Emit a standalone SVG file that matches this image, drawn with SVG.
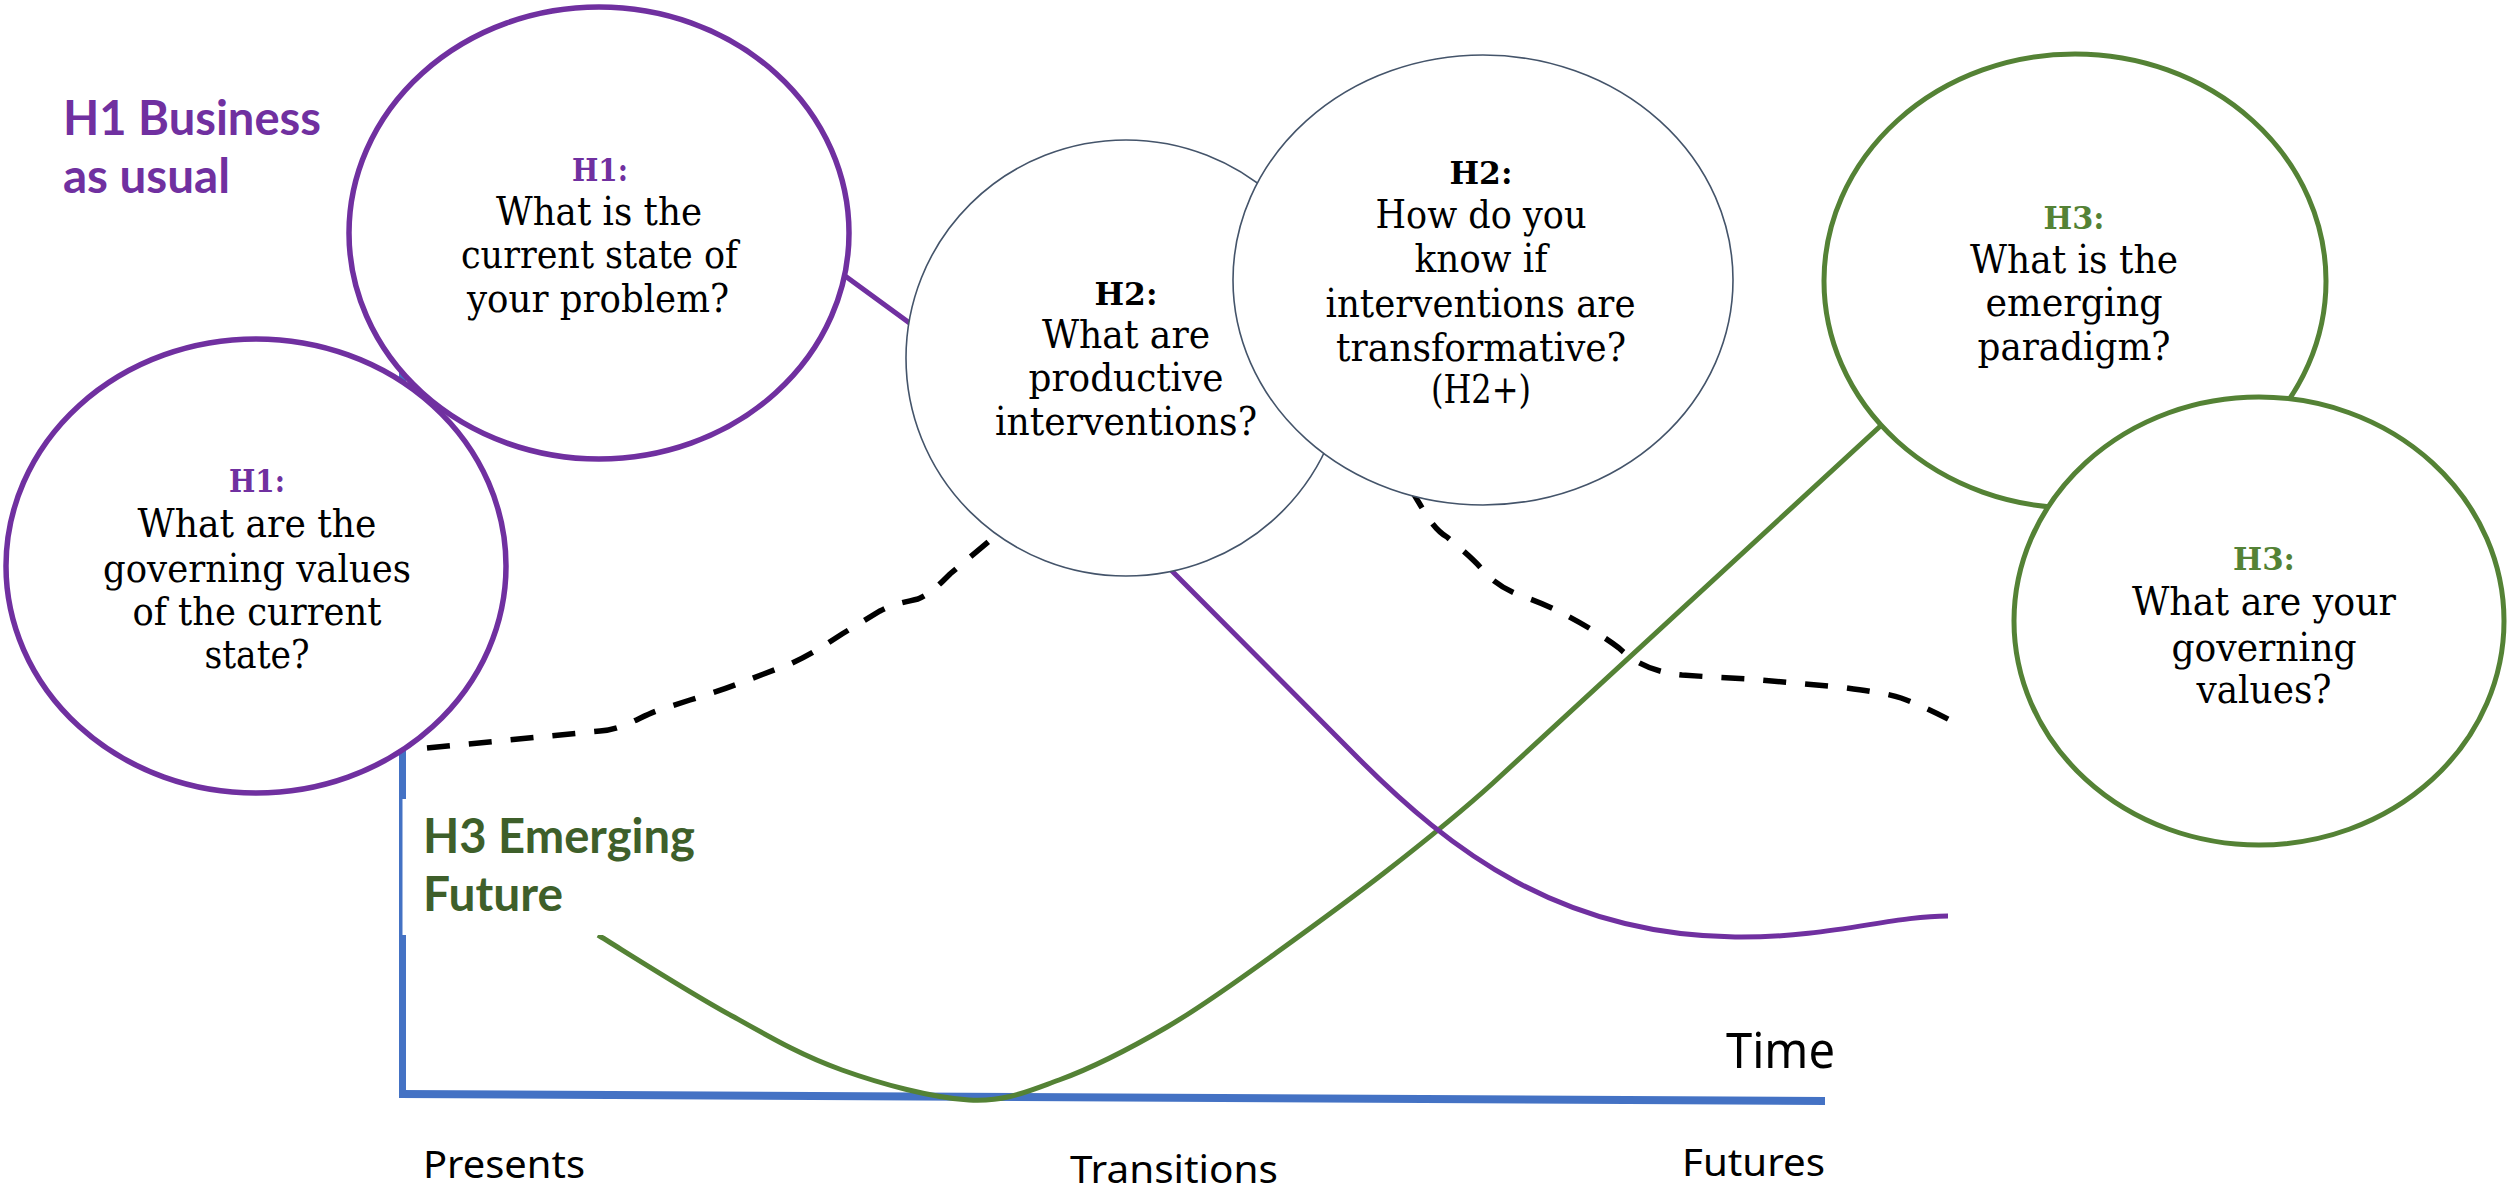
<svg xmlns="http://www.w3.org/2000/svg" width="2509" height="1196" viewBox="0 0 2509 1196">
<style>
.q{font-family:"DejaVu Serif","Liberation Serif",serif;font-size:39px;fill:#000}
.lb{font-family:"DejaVu Serif","Liberation Serif",serif;font-size:32px;font-weight:bold}
.h1{fill:#7030A0}.h2{fill:#000}.h3{fill:#548235}
.c1{fill:#fff;stroke:#7030A0;stroke-width:5.5}
.c2{fill:#fff;stroke:#44546A;stroke-width:1.6}
.c3{fill:#fff;stroke:#548235;stroke-width:5}
.dash{fill:none;stroke:#000;stroke-width:5.5;stroke-dasharray:23 19}
.ax{stroke:#4472C4;fill:none}
.big{font-family:Lato,"Liberation Sans",sans-serif;font-weight:bold;font-size:47px}
.bot{font-family:"Noto Sans","Open Sans","Liberation Sans",sans-serif;fill:#000}
</style>
<rect x="0" y="0" width="2509" height="1196" fill="#fff"/>
<g id="connectors">
<line class="ax" x1="402.5" y1="330" x2="402.5" y2="1098" stroke-width="7"/>
<line class="ax" x1="399" y1="1094" x2="1825" y2="1101" stroke-width="8"/>
<path d="M598,935 C621,949 693,995 734,1017 C775,1040 803,1056 842,1070 C881,1084 933,1098 969,1100 C1005,1102 1026,1092 1059,1080 C1092,1068 1131,1048 1167,1027 C1203,1006 1240,979 1276,953 C1312,927 1348,901 1384,873 C1420,845 1460,813 1493,783 L1900,408" fill="none" stroke="#548235" stroke-width="5"/>
<path d="M800,243 L930,338 L1171,570 L1360,760 C1450,850 1560,935 1735,937 C1830,938 1890,916 1948,916" fill="none" stroke="#7030A0" stroke-width="5"/>
<path class="dash" d="M427,748 L600,731 C625,729 640,716 662,709 L690,700 C712,693 725,689 740,683 L790,664 C812,654 828,643 842,634 L880,611 C895,603 906,602 918,599 C930,594 938,586 950,574 L1000,532"/>
<path class="dash" d="M1410,488 C1425,512 1432,528 1447,537 C1460,548 1472,558 1481,568 C1492,582 1508,592 1530,599 C1560,610 1595,630 1619,648 C1632,660 1650,672 1682,675 C1710,677 1730,678 1750,679 L1840,687 C1870,691 1890,694 1901,698 C1920,705 1935,712 1965,728"/>
<rect x="402.5" y="799" width="320" height="136" fill="#fff"/>
</g>
<g id="h1-state">
<ellipse class="c1" cx="599" cy="233" rx="250" ry="226"/>
<text class="lb h1" x="572" y="181" textLength="56" lengthAdjust="spacingAndGlyphs">H1:</text>
<text class="q" x="496" y="225" textLength="206" lengthAdjust="spacingAndGlyphs">What is the</text>
<text class="q" x="461" y="268" textLength="277" lengthAdjust="spacingAndGlyphs">current state of</text>
<text class="q" x="467" y="312" textLength="262" lengthAdjust="spacingAndGlyphs">your problem?</text>
</g>
<g id="h1-values">
<ellipse class="c1" cx="256" cy="566" rx="250" ry="227"/>
<text class="lb h1" x="229" y="492" textLength="56" lengthAdjust="spacingAndGlyphs">H1:</text>
<text class="q" x="137.5" y="537" textLength="239" lengthAdjust="spacingAndGlyphs">What are the</text>
<text class="q" x="103" y="582" textLength="308" lengthAdjust="spacingAndGlyphs">governing values</text>
<text class="q" x="132.5" y="625" textLength="249" lengthAdjust="spacingAndGlyphs">of the current</text>
<text class="q" x="204.5" y="668" textLength="105" lengthAdjust="spacingAndGlyphs">state?</text>
</g>
<g id="h2-productive">
<ellipse class="c2" cx="1126" cy="358" rx="220" ry="218"/>
<text class="lb h2" x="1094.5" y="305" textLength="63" lengthAdjust="spacingAndGlyphs">H2:</text>
<text class="q" x="1042" y="348" textLength="168" lengthAdjust="spacingAndGlyphs">What are</text>
<text class="q" x="1028.5" y="391" textLength="195" lengthAdjust="spacingAndGlyphs">productive</text>
<text class="q" x="995" y="435" textLength="262" lengthAdjust="spacingAndGlyphs">interventions?</text>
</g>
<g id="h2-transformative">
<ellipse class="c2" cx="1483" cy="280" rx="250" ry="225"/>
<text class="lb h2" x="1449.5" y="184" textLength="63" lengthAdjust="spacingAndGlyphs">H2:</text>
<text class="q" x="1375.5" y="228" textLength="211" lengthAdjust="spacingAndGlyphs">How do you</text>
<text class="q" x="1414.5" y="272" textLength="133" lengthAdjust="spacingAndGlyphs">know if</text>
<text class="q" x="1325.5" y="317" textLength="310" lengthAdjust="spacingAndGlyphs">interventions are</text>
<text class="q" x="1336" y="361" textLength="290" lengthAdjust="spacingAndGlyphs">transformative?</text>
<text class="q" x="1431" y="403" textLength="100" lengthAdjust="spacingAndGlyphs">(H2+)</text>
</g>
<g id="h3-paradigm">
<ellipse class="c3" cx="2075" cy="281" rx="251" ry="227"/>
<text class="lb h3" x="2043.5" y="229" textLength="61" lengthAdjust="spacingAndGlyphs">H3:</text>
<text class="q" x="1970" y="273" textLength="208" lengthAdjust="spacingAndGlyphs">What is the</text>
<text class="q" x="1985.5" y="316" textLength="177" lengthAdjust="spacingAndGlyphs">emerging</text>
<text class="q" x="1977.5" y="360" textLength="193" lengthAdjust="spacingAndGlyphs">paradigm?</text>
</g>
<g id="h3-values">
<ellipse class="c3" cx="2259" cy="621" rx="245" ry="224"/>
<text class="lb h3" x="2233" y="570" textLength="62" lengthAdjust="spacingAndGlyphs">H3:</text>
<text class="q" x="2132" y="615" textLength="264" lengthAdjust="spacingAndGlyphs">What are your</text>
<text class="q" x="2171.5" y="661" textLength="185" lengthAdjust="spacingAndGlyphs">governing</text>
<text class="q" x="2196.5" y="703" textLength="135" lengthAdjust="spacingAndGlyphs">values?</text>
</g>
<g id="label-h1">
<text class="big" fill="#7030A0" x="63" y="135" textLength="258" lengthAdjust="spacingAndGlyphs">H1 Business</text>
<text class="big" fill="#7030A0" x="63" y="193" textLength="167" lengthAdjust="spacingAndGlyphs">as usual</text>
</g>
<g id="label-h3">
<text class="big" fill="#3E5F2A" x="423" y="853" textLength="272" lengthAdjust="spacingAndGlyphs">H3 Emerging</text>
<text class="big" fill="#3E5F2A" x="423" y="911" textLength="140" lengthAdjust="spacingAndGlyphs">Future</text>
</g>
<g id="axis-labels">
<text class="bot" font-size="50" x="1726" y="1068" textLength="109" lengthAdjust="spacingAndGlyphs">Time</text>
<text class="bot" font-size="39" x="423" y="1178" textLength="162" lengthAdjust="spacingAndGlyphs">Presents</text>
<text class="bot" font-size="39" x="1070" y="1183" textLength="208" lengthAdjust="spacingAndGlyphs">Transitions</text>
<text class="bot" font-size="39" x="1682" y="1176" textLength="143" lengthAdjust="spacingAndGlyphs">Futures</text>
</g>
</svg>
